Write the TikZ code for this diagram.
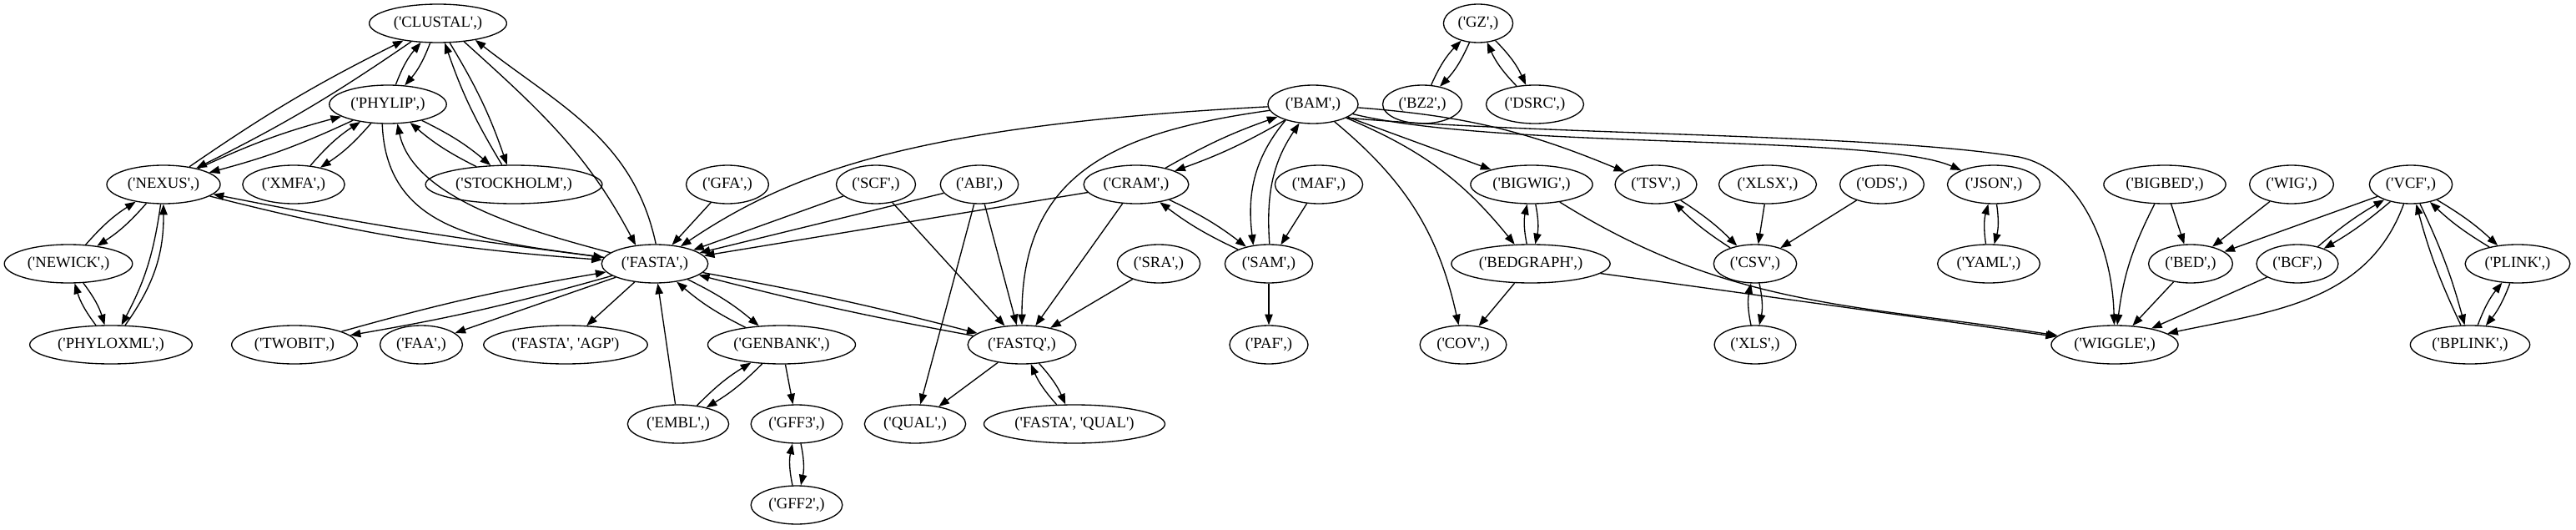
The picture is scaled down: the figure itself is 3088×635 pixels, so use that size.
\documentclass[tikz,border=0pt]{standalone}
\usepackage{fontspec}
\setmainfont{Liberation Serif}[Ligatures=TeXOff]
\usetikzlibrary{arrows.meta,shapes.geometric}

\begin{document}
\begin{tikzpicture}[x=0.75pt,y=0.75pt,line width=1pt,
  fmt/.style={draw,ellipse,inner xsep=3.8pt,inner ysep=2pt,minimum height=34.5pt,font=\fontsize{14pt}{16pt}\selectfont},
  conv/.style={-{Triangle[length=9.5pt,width=7pt]}}]
\useasboundingbox (0,0) rectangle (3088,-635);
\node[fmt] (clustal) at (525,-28) {('CLUSTAL',)};
\node[fmt] (gz) at (1772,-28) {('GZ',)};
\node[fmt] (phylip) at (465,-125) {('PHYLIP',)};
\node[fmt] (bam) at (1574,-125) {('BAM',)};
\node[fmt] (bztwo) at (1705,-125) {('BZ2',)};
\node[fmt] (dsrc) at (1840,-125) {('DSRC',)};
\node[fmt] (nexus) at (196,-221) {('NEXUS',)};
\node[fmt] (xmfa) at (352,-221) {('XMFA',)};
\node[fmt] (stockholm) at (616,-221) {('STOCKHOLM',)};
\node[fmt] (gfa) at (872,-221) {('GFA',)};
\node[fmt] (scf) at (1050,-221) {('SCF',)};
\node[fmt] (abi) at (1174,-221) {('ABI',)};
\node[fmt] (cram) at (1362,-221) {('CRAM',)};
\node[fmt] (maf) at (1581,-221) {('MAF',)};
\node[fmt] (bigwig) at (1836,-221) {('BIGWIG',)};
\node[fmt] (tsv) at (1985,-221) {('TSV',)};
\node[fmt] (xlsx) at (2119,-221) {('XLSX',)};
\node[fmt] (ods) at (2256,-221) {('ODS',)};
\node[fmt] (json) at (2390,-221) {('JSON',)};
\node[fmt] (bigbed) at (2595,-221) {('BIGBED',)};
\node[fmt] (wig) at (2747,-221) {('WIG',)};
\node[fmt] (vcf) at (2890,-221) {('VCF',)};
\node[fmt] (newick) at (82,-316) {('NEWICK',)};
\node[fmt] (fasta) at (785,-316) {('FASTA',)};
\node[fmt] (sra) at (1389,-316) {('SRA',)};
\node[fmt] (sam) at (1521,-316) {('SAM',)};
\node[fmt] (bedgraph) at (1835,-316) {('BEDGRAPH',)};
\node[fmt] (csv) at (2104,-316) {('CSV',)};
\node[fmt] (yaml) at (2384,-316) {('YAML',)};
\node[fmt] (bed) at (2626,-316) {('BED',)};
\node[fmt] (bcf) at (2754,-316) {('BCF',)};
\node[fmt] (plink) at (3018,-316) {('PLINK',)};
\node[fmt] (phyloxml) at (133,-413) {('PHYLOXML',)};
\node[fmt] (twobit) at (353,-413) {('TWOBIT',)};
\node[fmt] (faa) at (505,-413) {('FAA',)};
\node[fmt] (fastaagp) at (678,-413) {('FASTA', 'AGP')};
\node[fmt] (genbank) at (937,-413) {('GENBANK',)};
\node[fmt] (fastq) at (1225,-413) {('FASTQ',)};
\node[fmt] (paf) at (1521,-413) {('PAF',)};
\node[fmt] (cov) at (1754,-413) {('COV',)};
\node[fmt] (xls) at (2104,-413) {('XLS',)};
\node[fmt] (wiggle) at (2535,-413) {('WIGGLE',)};
\node[fmt] (bplink) at (2961,-413) {('BPLINK',)};
\node[fmt] (embl) at (813,-508) {('EMBL',)};
\node[fmt] (gffthree) at (955,-508) {('GFF3',)};
\node[fmt] (qual) at (1097,-508) {('QUAL',)};
\node[fmt] (fastaqual) at (1288,-508) {('FASTA', 'QUAL')};
\node[fmt] (gfftwo) at (955,-605) {('GFF2',)};

\draw[conv] (clustal) to[bend left=4] (nexus); \draw[conv] (nexus) to[bend left=4] (clustal);
\draw[conv] (clustal) to[bend left=10] (phylip); \draw[conv] (phylip) to[bend left=10] (clustal);
\draw[conv] (clustal) to[bend left=6] (stockholm); \draw[conv] (stockholm) to[bend left=6] (clustal);
\draw[conv] (clustal.-35) to[out=-42,in=118] (fasta.136);
\draw[conv] (fasta.87) to[out=102,in=-38] (clustal.-24);
\draw[conv] (phylip) to[bend left=5] (nexus); \draw[conv] (nexus) to[bend left=5] (phylip);
\draw[conv] (phylip) to[bend left=8] (xmfa); \draw[conv] (xmfa) to[bend left=8] (phylip);
\draw[conv] (phylip) to[bend left=7] (stockholm); \draw[conv] (stockholm) to[bend left=7] (phylip);
\draw[conv] (phylip.-106) to[out=-88,in=172,looseness=1.1] (fasta.173);
\draw[conv] (fasta.166) to[out=165,in=-78,looseness=0.8] (phylip.-64);
\draw[conv] (nexus) to[bend right=5] (fasta); \draw[conv] (fasta) to[bend left=2] (nexus);
\draw[conv] (nexus) to[bend left=8] (newick); \draw[conv] (newick) to[bend left=8] (nexus);
\draw[conv] (nexus) to[bend left=10] (phyloxml); \draw[conv] (phyloxml) to[bend right=18] (nexus);
\draw[conv] (newick) to[bend left=10] (phyloxml); \draw[conv] (phyloxml) to[bend left=10] (newick);
\draw[conv] (fasta) to[bend left=3] (twobit); \draw[conv] (twobit) to[bend left=3] (fasta);
\draw[conv] (fasta) -- (faa);
\draw[conv] (fasta) -- (fastaagp);
\draw[conv] (fasta) to[bend left=7] (genbank); \draw[conv] (genbank) to[bend left=7] (fasta);
\draw[conv] (embl) -- (fasta);
\draw[conv] (genbank) to[bend left=7] (embl); \draw[conv] (embl) to[bend left=7] (genbank);
\draw[conv] (genbank) -- (gffthree);
\draw[conv] (gffthree) to[bend left=12] (gfftwo); \draw[conv] (gfftwo) to[bend left=12] (gffthree);
\draw[conv] (gfa) -- (fasta);
\draw[conv] (scf) -- (fasta);
\draw[conv] (abi) -- (fasta);
\draw[conv] (cram) -- (fasta);
\draw[conv] (bam) .. controls (1100,-150) and (950,-205) .. (fasta);
\draw[conv] (fasta) to[bend left=2] (fastq); \draw[conv] (fastq) to[bend left=2] (fasta);
\draw[conv] (scf) -- (fastq);
\draw[conv] (abi) -- (fastq);
\draw[conv] (abi) -- (qual);
\draw[conv] (sra) -- (fastq);
\draw[conv] (cram) -- (fastq);
\draw[conv] (bam) to[out=188,in=90,looseness=1.2] (fastq);
\draw[conv] (fastq) -- (qual);
\draw[conv] (fastq) to[bend left=9] (fastaqual); \draw[conv] (fastaqual) to[bend left=9] (fastq);
\draw[conv] (bam) to[bend left=5] (cram); \draw[conv] (cram) to[bend left=5] (bam);
\draw[conv] (bam.-150) to[out=-130,in=97] (sam.130);
\draw[conv] (sam.88) to[out=94,in=-124] (bam.-126);
\draw[conv] (cram) to[bend left=6] (sam); \draw[conv] (sam) to[bend left=6] (cram);
\draw[conv] (maf) -- (sam);
\draw[conv] (sam) -- (paf);
\draw[conv] (bam) to[bend left=19] (cov);
\draw[conv] (bam) to[bend left=14] (bedgraph);
\draw[conv] (bam) -- (bigwig);
\draw[conv] (bam) to[bend left=9] (tsv);
\draw[conv] (bam) .. controls (1800,-180) and (2250,-160) .. (json);
\draw[conv] (bam.-22) .. controls (1850,-162) and (2250,-160) .. (2420,-188)
    .. controls (2490,-202) and (2532,-290) .. (wiggle);
\draw[conv] (gz) to[bend left=10] (bztwo); \draw[conv] (bztwo) to[bend left=10] (gz);
\draw[conv] (gz) to[bend left=10] (dsrc); \draw[conv] (dsrc) to[bend left=10] (gz);
\draw[conv] (bigwig) to[bend left=12] (bedgraph); \draw[conv] (bedgraph) to[bend left=12] (bigwig);
\draw[conv] (bigwig) to[out=-32,in=171] (wiggle);
\draw[conv] (bedgraph) -- (cov);
\draw[conv] (bedgraph) -- (wiggle);
\draw[conv] (tsv) to[bend left=6] (csv); \draw[conv] (csv) to[bend left=6] (tsv);
\draw[conv] (xlsx) -- (csv);
\draw[conv] (ods) -- (csv);
\draw[conv] (csv) to[bend left=12] (xls); \draw[conv] (xls) to[bend left=12] (csv);
\draw[conv] (json) to[bend left=12] (yaml); \draw[conv] (yaml) to[bend left=12] (json);
\draw[conv] (bigbed) -- (bed);
\draw[conv] (bigbed) to[bend right=10] (wiggle);
\draw[conv] (wig) -- (bed);
\draw[conv] (vcf) -- (bed);
\draw[conv] (bed) -- (wiggle);
\draw[conv] (bcf) -- (wiggle);
\draw[conv] (vcf) to[out=-110,in=12] (wiggle);
\draw[conv] (vcf) to[bend left=5] (bcf); \draw[conv] (bcf) to[bend left=5] (vcf);
\draw[conv] (vcf) to[bend left=6] (plink); \draw[conv] (plink) to[bend left=6] (vcf);
\draw[conv] (vcf) to[bend left=5] (bplink); \draw[conv] (bplink) to[bend left=5] (vcf);
\draw[conv] (plink) to[bend left=9] (bplink); \draw[conv] (bplink) to[bend left=9] (plink);
\end{tikzpicture}
\end{document}
